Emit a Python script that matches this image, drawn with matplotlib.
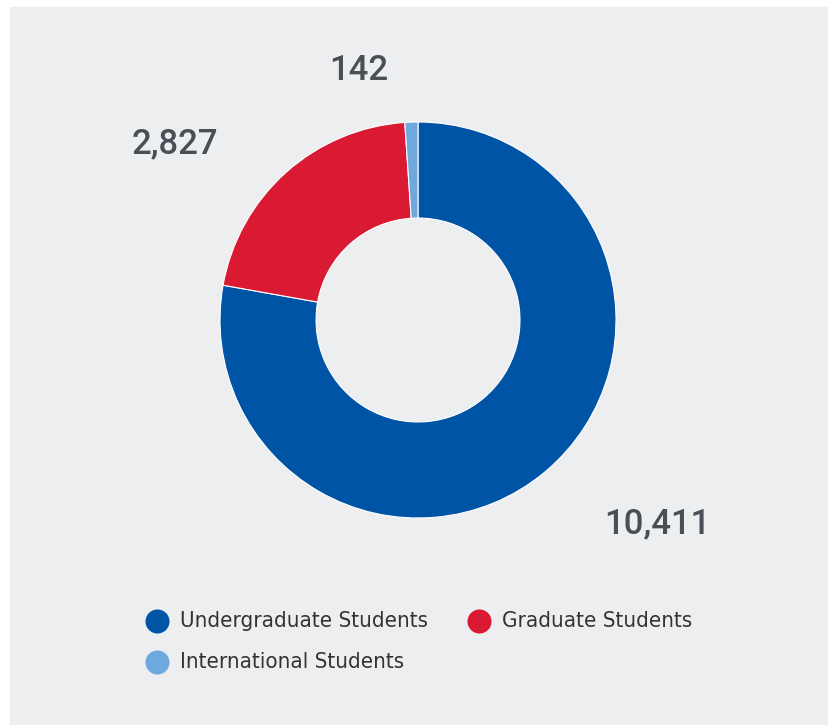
import matplotlib.pyplot as plt
from matplotlib.patches import Rectangle

# data
categories = ['Undergraduate Students', 'Graduate Students', 'International Students']
values = [10411, 2827, 142]
colors = ['#0054a6', '#da1a32', '#6fa8dc']

# label offsets (pie units, radius = 1) for the value labels
label_pos = [(1.21, -1.03), (-1.23, 0.89), (-0.30, 1.26)]

W, H = 832, 725
fig = plt.figure(figsize=(W / 100, H / 100), dpi=100)
fig.patch.set_facecolor('white')
ax = fig.add_axes([0, 0, 1, 1])

cx, cy, r = 418, 405, 198
wedges, _ = ax.pie(values, colors=colors, startangle=90, counterclock=False,
                   center=(cx, cy), radius=r, frame=True,
                   wedgeprops=dict(width=r * 0.485, edgecolor='white', linewidth=0.8))
ax.set_xlim(0, W)
ax.set_ylim(0, H)
ax.set_aspect('equal')
ax.axis('off')

# grey panel
ax.add_patch(Rectangle((10, 0), 817, 718, color='#edeef0', zorder=0))

for v, (lx, ly) in zip(values, label_pos):
    ax.text(cx + lx * r, cy + ly * r, f'{v:,}', ha='center', va='center',
            fontsize=25, color='#4a4f57', family='Roboto', fontweight='medium')

# legend
leg_x = [157, 479, 157]
leg_y = [104, 104, 63]
for name, c, x, y in zip(categories, colors, leg_x, leg_y):
    ax.scatter([x], [y], s=300, color=c, zorder=3, linewidths=0)
    ax.text(x + 23, y, name, ha='left', va='center', fontsize=16,
            color='#333336', family='DejaVu Sans', fontstretch='condensed')

fig.savefig('out.png', dpi=100, facecolor='white')
